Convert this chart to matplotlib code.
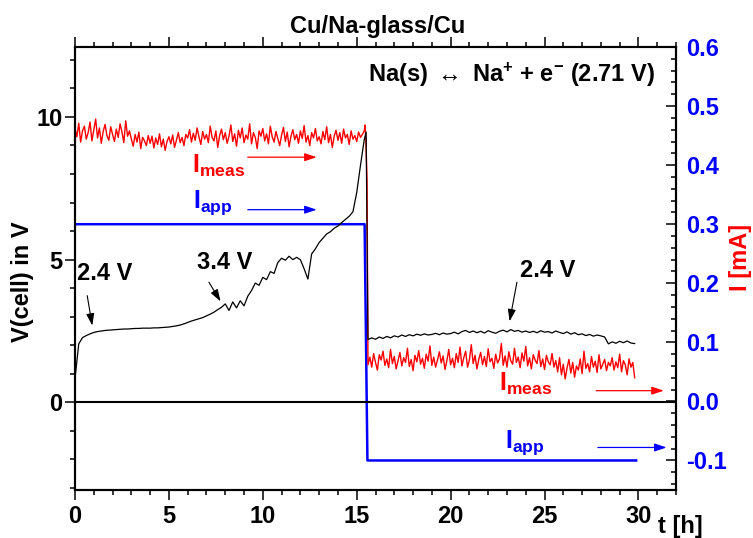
import numpy as np
import matplotlib
matplotlib.use("Agg")
import matplotlib.pyplot as plt
from matplotlib.ticker import MultipleLocator, FormatStrFormatter

plt.rcParams['font.family'] = ['Liberation Sans', 'DejaVu Sans']
plt.rcParams['font.weight'] = 'bold'
plt.rcParams['mathtext.fontset'] = 'custom'
plt.rcParams['mathtext.rm'] = 'Liberation Sans:bold'
plt.rcParams['mathtext.bf'] = 'Liberation Sans:bold'
plt.rcParams['mathtext.it'] = 'Liberation Sans:bold'
plt.rcParams['axes.unicode_minus'] = False

# cell voltage while charging (V x 100), one reading every 0.2 h from 0 to 15.4 h
v_charge = [83, 205, 227, 234, 240, 245, 248, 250, 252, 253,
            254, 255, 256, 257, 257, 258, 259, 259, 260, 260,
            260, 261, 261, 262, 263, 264, 266, 268, 271, 275,
            280, 285, 289, 293, 297, 303, 309, 316, 325, 333,
            345, 322, 352, 331, 356, 338, 372, 392, 418, 410,
            438, 430, 458, 452, 490, 505, 498, 512, 500, 508,
            500, 468, 432, 520, 538, 560, 575, 590, 598, 610,
            618, 630, 641, 652, 668, 735, 830, 920]
v_peak_t, v_peak = 15.5, 947
# cell voltage after reversal (V x 100), every 0.2 h from 15.6 to 29.8 h
v_rev = [220, 226, 221, 229, 224, 231, 226, 233, 229, 236,
         231, 237, 233, 239, 235, 240, 236, 238, 242, 237,
         243, 239, 241, 246, 240, 248, 252, 245, 250, 244,
         249, 243, 251, 246, 242, 249, 253, 247, 255, 249,
         252, 246, 250, 245, 249, 244, 251, 246, 248, 243,
         250, 245, 241, 247, 239, 244, 237, 240, 234, 238,
         232, 236, 233, 229, 205, 212, 207, 214, 209, 215,
         208, 206]

# measured current (uA), every 0.1 h from 0 to 15.4 h
i_meas_charge = [462, 448, 471, 439, 458, 466, 444, 455, 473, 441,
                 459, 478, 446, 463, 437, 457, 469, 450, 442, 465,
                 452, 440, 461, 447, 470, 456, 438, 475, 449, 458,
                 444, 432, 452, 439, 456, 428, 447, 441, 433, 450,
                 437, 449, 429, 446, 435, 453, 431, 444, 425, 440,
                 448, 436, 451, 430, 442, 455, 438, 447, 433, 452,
                 446, 460, 439, 454, 442, 463, 448, 435, 457, 444,
                 452, 438, 466, 447, 441, 458, 430, 450, 461, 443,
                 455, 437, 449, 468, 440, 453, 432, 459, 446, 463,
                 438, 451, 444, 470, 436, 455, 447, 428, 458, 449,
                 462, 441, 453, 436, 466, 448, 439, 457, 445, 433,
                 451, 464, 440, 456, 431, 449, 460, 443, 452, 437,
                 458, 445, 467, 439, 450, 433, 455, 446, 462, 441,
                 448, 436, 457, 443, 465, 438, 452, 430, 449, 459,
                 442, 455, 437, 461, 446, 452, 435, 458, 444, 450,
                 440, 456, 447, 452, 458]
i_tail_t = [15.45, 15.5, 15.55]
i_tail = [468, 430, 374]
# measured current (uA), every 0.1 h from 15.6 to 29.8 h
i_meas_rev = [62, 75, 58, 81, 66, 53, 79, 70, 85, 61,
              72, 57, 88, 64, 76, 55, 69, 83, 60, 74,
              66, 90, 59, 71, 52, 78, 67, 86, 63, 73,
              56, 80, 68, 94, 61, 75, 58, 70, 84, 65,
              77, 54, 69, 88, 62, 73, 57, 81, 66, 92,
              60, 74, 85, 58, 70, 96, 64, 78, 55, 71,
              83, 62, 76, 59, 89, 67, 73, 56, 80, 65,
              72, 98, 61, 77, 58, 84, 69, 63, 90, 66,
              75, 57, 82, 68, 93, 60, 74, 55, 79, 70,
              64, 86, 59, 72, 54, 78, 67, 62, 81, 58,
              69, 50, 74, 45, 63, 38, 57, 71, 48, 66,
              41, 60, 53, 72, 47, 85, 56, 64, 50, 76,
              58, 68, 49, 79, 55, 63, 71, 52, 66, 60,
              74, 53, 67, 57, 80, 50, 69, 62, 45, 72,
              58, 66, 40]

# applied current program (mA)
t_app = [0, 15.42, 15.57, 29.88]
i_app = [0.3, 0.3, -0.1, -0.1]

t_v = np.concatenate([np.linspace(0, 15.4, len(v_charge)), [v_peak_t],
                      np.linspace(15.6, 29.8, len(v_rev))])
v_cell = np.concatenate([v_charge, [v_peak], v_rev]) / 100.0
t_i = np.concatenate([np.linspace(0, 15.4, len(i_meas_charge)), i_tail_t,
                      np.linspace(15.6, 29.8, len(i_meas_rev))])
i_meas = np.concatenate([i_meas_charge, i_tail, i_meas_rev]) / 1000.0

RED = '#ff0000'
BLUE = '#0000ff'
FS = 17

fig = plt.figure(figsize=(7.53, 5.38), dpi=100)
ax = fig.add_axes([75 / 753, 1 - 490 / 538, 601 / 753, 443 / 538])
ax2 = ax.twinx()
ax.set_zorder(ax2.get_zorder() + 1)
ax.patch.set_visible(False)

ax2.plot(t_app, i_app, color=BLUE, lw=1.8)
ax2.plot(t_i, i_meas, color=RED, lw=1.0)
ax.axhline(0, color='k', lw=1.5)
ax.plot(t_v, v_cell, color='k', lw=0.9)

ax.set_xlim(0, 32)
ax.set_ylim(-3.07, 12.45)
ax2.set_ylim(-0.15, 0.6)

ax.xaxis.set_major_locator(MultipleLocator(5))
ax.xaxis.set_minor_locator(MultipleLocator(1))
ax.yaxis.set_major_locator(MultipleLocator(5))
ax.yaxis.set_minor_locator(MultipleLocator(1))
ax2.yaxis.set_major_locator(MultipleLocator(0.1))
ax2.yaxis.set_minor_locator(MultipleLocator(0.02))
ax2.yaxis.set_major_formatter(FormatStrFormatter('%.1f'))

ax.tick_params(axis='x', which='both', top=True, direction='out', width=1.1,
               labelsize=FS, pad=3.5)
ax.tick_params(axis='y', which='both', right=False, direction='out', width=1.1,
               labelsize=FS, pad=2)
ax.tick_params(which='major', length=7)
ax.tick_params(which='minor', length=3.6)
ax2.tick_params(axis='y', which='both', direction='in', width=1.1,
                labelsize=FS, labelcolor=BLUE, pad=7)
ax2.tick_params(which='major', length=7)
ax2.tick_params(which='minor', length=3.6)
for a in (ax, ax2):
    for s in a.spines.values():
        s.set_linewidth(1.5)

fig.text(377.5 / 753, 1 - 33 / 538, 'Cu/Na-glass/Cu', ha='center', va='baseline', fontsize=FS)
fig.text(23 / 753, 1 - 282 / 538, 'V(cell) in V', rotation=90, ha='center', va='center', fontsize=FS)
fig.text(741 / 753, 1 - 257 / 538, 'I [mA]', rotation=90, ha='center', va='center',
         fontsize=FS, color=RED)
fig.text(658 / 753, 1 - 533 / 538, 't [h]', ha='left', va='baseline', fontsize=FS)

ax.text(15.59, 11.22, r'Na(s) $\leftrightarrow$ Na$^{+}$ + e$^{-}$ (2.71 V)',
        ha='left', va='baseline', fontsize=FS)

# voltage call-outs
arrow_k = dict(arrowstyle='-|>,head_length=0.6,head_width=0.2', color='k', lw=0.8,
               shrinkA=0, shrinkB=0, mutation_scale=12)
ax.text(0.1, 4.27, '2.4 V', ha='left', va='baseline', fontsize=FS)
ax.annotate('', xy=(0.92, 2.69), xytext=(0.65, 3.74), arrowprops=arrow_k)
ax.text(6.47, 4.68, '3.4 V', ha='left', va='baseline', fontsize=FS)
ax.annotate('', xy=(7.75, 3.54), xytext=(7.13, 4.21), arrowprops=arrow_k)
ax.text(23.67, 4.39, '2.4 V', ha='left', va='baseline', fontsize=FS)
ax.annotate('', xy=(23.14, 2.84), xytext=(23.53, 4.21), arrowprops=arrow_k)

# current labels with arrows pointing to the right-hand axis
def current_label(x, y, text, color, ax0, ax1, ay):
    ax.text(x, y, text, ha='left', va='baseline', fontsize=18, color=color)
    ax.annotate('', xy=(ax1, ay), xytext=(ax0, ay),
                arrowprops=dict(arrowstyle='-|>,head_length=0.6,head_width=0.2',
                                color=color, lw=0.9, shrinkA=0, shrinkB=0,
                                mutation_scale=12))

current_label(6.22, 8.06, r'I$_{\mathrm{meas}}$', RED, 9.2, 12.87, 8.59)
current_label(6.28, 6.83, r'I$_{\mathrm{app}}$', BLUE, 9.2, 12.87, 6.75)
current_label(22.6, 0.41, r'I$_{\mathrm{meas}}$', RED, 27.75, 31.35, 0.41)
current_label(22.87, -1.59, r'I$_{\mathrm{app}}$', BLUE, 27.84, 31.5, -1.58)

fig.savefig('out.png', dpi=100)
